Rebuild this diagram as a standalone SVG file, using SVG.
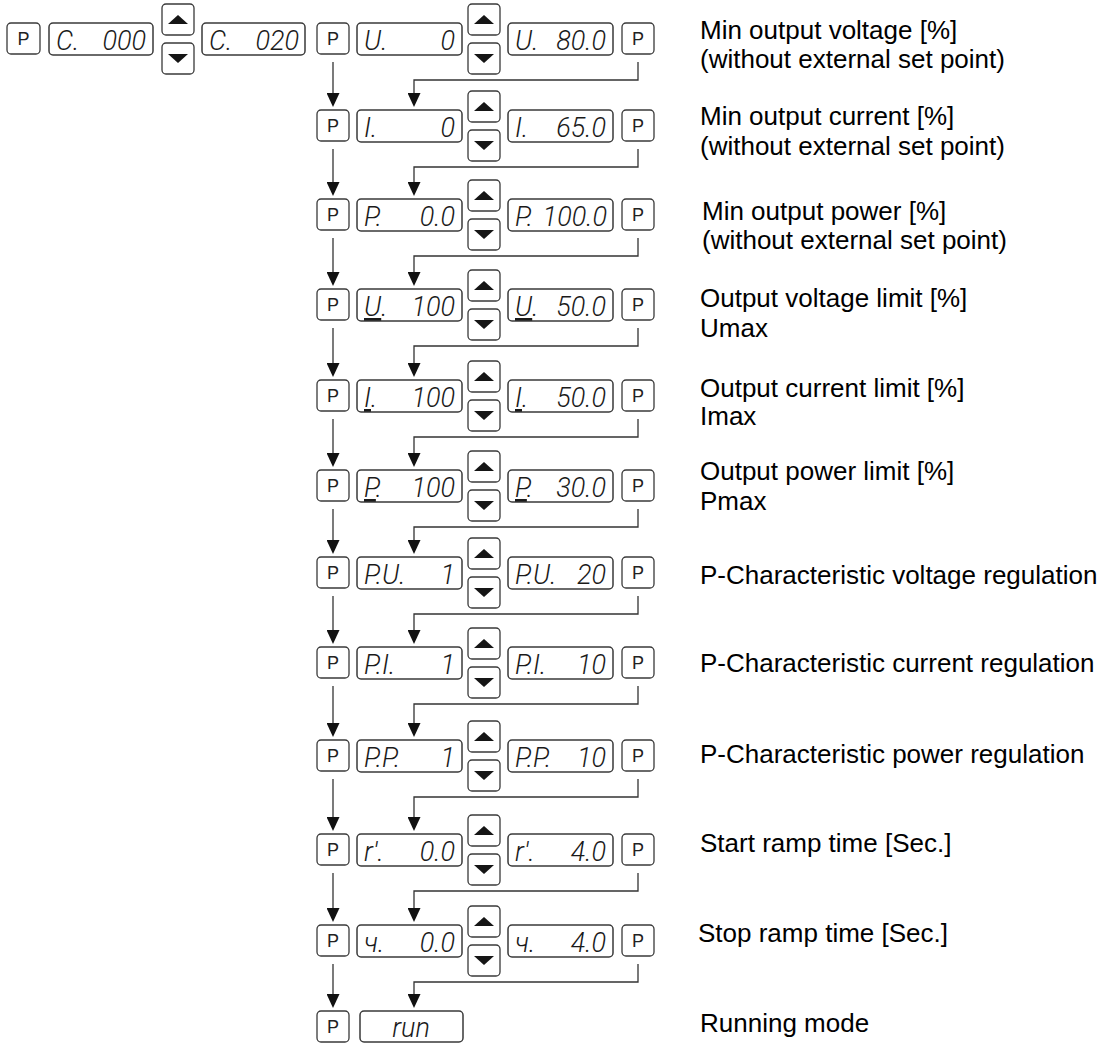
<svg xmlns="http://www.w3.org/2000/svg" width="1109" height="1044" viewBox="0 0 1109 1044">
<style>
.btn{fill:#fff;stroke:#3a3a3a;stroke-width:1.3}
.disp{fill:#fff;stroke:#3a3a3a;stroke-width:1.5}
.tri{fill:#151515}
.p{font-family:"Liberation Sans",Arial,sans-serif;font-size:18px;text-anchor:middle;fill:#222}
.seg{font-family:Roboto,"DejaVu Sans",sans-serif;font-style:italic;font-weight:300;font-size:27px;fill:#1a1a1a}
.v{text-anchor:end}
.lbl{font-family:"Liberation Sans",Arial,sans-serif;font-size:26px;fill:#000}
.conn{fill:none;stroke:#333;stroke-width:1.3;marker-end:url(#ah)}
</style>
<defs>
<marker id="ah" viewBox="0 0 14 13" refX="6" refY="6.5" markerWidth="14" markerHeight="13" markerUnits="userSpaceOnUse" orient="auto"><path d="M0,0 L14,6.5 L0,13 z" fill="#111"/></marker>
</defs>

<g id="connectors">
<line class="conn" x1="333" y1="62" x2="333" y2="99"/>
<polyline class="conn" points="638,62 638,80 414,80 414,99"/>
<line class="conn" x1="333" y1="149" x2="333" y2="188"/>
<polyline class="conn" points="638,149 638,167 414,167 414,188"/>
<line class="conn" x1="333" y1="238" x2="333" y2="278"/>
<polyline class="conn" points="638,238 638,256 414,256 414,278"/>
<line class="conn" x1="333" y1="328" x2="333" y2="369"/>
<polyline class="conn" points="638,328 638,346 414,346 414,369"/>
<line class="conn" x1="333" y1="419" x2="333" y2="459"/>
<polyline class="conn" points="638,419 638,437 414,437 414,459"/>
<line class="conn" x1="333" y1="509" x2="333" y2="546"/>
<polyline class="conn" points="638,509 638,527 414,527 414,546"/>
<line class="conn" x1="333" y1="596" x2="333" y2="636"/>
<polyline class="conn" points="638,596 638,614 414,614 414,636"/>
<line class="conn" x1="333" y1="686" x2="333" y2="729"/>
<polyline class="conn" points="638,686 638,704 414,704 414,729"/>
<line class="conn" x1="333" y1="779" x2="333" y2="823"/>
<polyline class="conn" points="638,779 638,797 414,797 414,823"/>
<line class="conn" x1="333" y1="873" x2="333" y2="914"/>
<polyline class="conn" points="638,873 638,891 414,891 414,914"/>
<line class="conn" x1="333" y1="964" x2="333" y2="1000"/>
<polyline class="conn" points="638,964 638,982 414,982 414,1000"/>
</g>

<!-- Row 1 left part -->
<g id="p-start"><rect class="btn" x="7" y="23" width="33" height="31" rx="4"/><text class="p" x="23.5" y="45">P</text></g>
<g id="disp-c000"><rect class="disp" x="49" y="23" width="104" height="32" rx="4"/><text class="seg" x="56" y="50">C.</text><text class="seg v" x="146" y="50">000</text></g>
<g id="updown-c"><rect class="btn" x="162" y="4" width="32" height="31" rx="4"/><polygon class="tri" points="168,24 188,24 178,15"/><rect class="btn" x="162" y="43" width="32" height="31" rx="4"/><polygon class="tri" points="168,54 188,54 178,63"/></g>
<g id="disp-c020"><rect class="disp" x="202" y="23" width="103" height="32" rx="4"/><text class="seg" x="209" y="50">C.</text><text class="seg v" x="299" y="50">020</text></g>

<!-- Row 1 -->
<g id="p1a"><rect class="btn" x="317" y="23" width="32" height="31" rx="4"/><text class="p" x="333" y="45">P</text></g>
<g id="d1a"><rect class="disp" x="357" y="23" width="105" height="32" rx="4"/><text class="seg" x="364" y="50">U.</text><text class="seg v" x="455" y="50">0</text></g>
<g id="ud1"><rect class="btn" x="468" y="4" width="32" height="31" rx="4"/><polygon class="tri" points="474,24 494,24 484,15"/><rect class="btn" x="468" y="43" width="32" height="31" rx="4"/><polygon class="tri" points="474,54 494,54 484,63"/></g>
<g id="d1b"><rect class="disp" x="508" y="23" width="105" height="32" rx="4"/><text class="seg" x="515" y="50">U.</text><text class="seg v" x="606" y="50">80.0</text></g>
<g id="p1b"><rect class="btn" x="622" y="23" width="32" height="31" rx="4"/><text class="p" x="638" y="45">P</text></g>
<g id="lbl1"><text class="lbl" x="700" y="39">Min output voltage [%]</text><text class="lbl" x="700" y="68">(without external set point)</text></g>

<!-- Row 2 -->
<g id="p2a"><rect class="btn" x="317" y="110" width="32" height="31" rx="4"/><text class="p" x="333" y="132">P</text></g>
<g id="d2a"><rect class="disp" x="357" y="110" width="105" height="32" rx="4"/><text class="seg" x="364" y="137">I.</text><text class="seg v" x="455" y="137">0</text></g>
<g id="ud2"><rect class="btn" x="468" y="91" width="32" height="31" rx="4"/><polygon class="tri" points="474,111 494,111 484,102"/><rect class="btn" x="468" y="130" width="32" height="31" rx="4"/><polygon class="tri" points="474,141 494,141 484,150"/></g>
<g id="d2b"><rect class="disp" x="508" y="110" width="105" height="32" rx="4"/><text class="seg" x="515" y="137">I.</text><text class="seg v" x="606" y="137">65.0</text></g>
<g id="p2b"><rect class="btn" x="622" y="110" width="32" height="31" rx="4"/><text class="p" x="638" y="132">P</text></g>
<g id="lbl2"><text class="lbl" x="700" y="125">Min output current [%]</text><text class="lbl" x="700" y="155">(without external set point)</text></g>

<!-- Row 3 -->
<g id="p3a"><rect class="btn" x="317" y="199" width="32" height="31" rx="4"/><text class="p" x="333" y="221">P</text></g>
<g id="d3a"><rect class="disp" x="357" y="199" width="105" height="32" rx="4"/><text class="seg" x="364" y="226">P.</text><text class="seg v" x="455" y="226">0.0</text></g>
<g id="ud3"><rect class="btn" x="468" y="180" width="32" height="31" rx="4"/><polygon class="tri" points="474,200 494,200 484,191"/><rect class="btn" x="468" y="219" width="32" height="31" rx="4"/><polygon class="tri" points="474,230 494,230 484,239"/></g>
<g id="d3b"><rect class="disp" x="508" y="199" width="105" height="32" rx="4"/><text class="seg" x="515" y="226">P.</text><text class="seg v" x="607" y="226">100.0</text></g>
<g id="p3b"><rect class="btn" x="622" y="199" width="32" height="31" rx="4"/><text class="p" x="638" y="221">P</text></g>
<g id="lbl3"><text class="lbl" x="702" y="220">Min output power [%]</text><text class="lbl" x="702" y="249">(without external set point)</text></g>

<!-- Row 4 -->
<g id="p4a"><rect class="btn" x="317" y="289" width="32" height="31" rx="4"/><text class="p" x="333" y="311">P</text></g>
<g id="d4a"><rect class="disp" x="357" y="289" width="105" height="32" rx="4"/><text class="seg" x="364" y="316"><tspan text-decoration="underline">U</tspan>.</text><text class="seg v" x="455" y="316">100</text></g>
<g id="ud4"><rect class="btn" x="468" y="270" width="32" height="31" rx="4"/><polygon class="tri" points="474,290 494,290 484,281"/><rect class="btn" x="468" y="309" width="32" height="31" rx="4"/><polygon class="tri" points="474,320 494,320 484,329"/></g>
<g id="d4b"><rect class="disp" x="508" y="289" width="105" height="32" rx="4"/><text class="seg" x="515" y="316"><tspan text-decoration="underline">U</tspan>.</text><text class="seg v" x="606" y="316">50.0</text></g>
<g id="p4b"><rect class="btn" x="622" y="289" width="32" height="31" rx="4"/><text class="p" x="638" y="311">P</text></g>
<g id="lbl4"><text class="lbl" x="700" y="307">Output voltage limit [%]</text><text class="lbl" x="700" y="337">Umax</text></g>

<!-- Row 5 -->
<g id="p5a"><rect class="btn" x="317" y="380" width="32" height="31" rx="4"/><text class="p" x="333" y="402">P</text></g>
<g id="d5a"><rect class="disp" x="357" y="380" width="105" height="32" rx="4"/><text class="seg" x="364" y="407"><tspan text-decoration="underline">I</tspan>.</text><text class="seg v" x="455" y="407">100</text></g>
<g id="ud5"><rect class="btn" x="468" y="361" width="32" height="31" rx="4"/><polygon class="tri" points="474,381 494,381 484,372"/><rect class="btn" x="468" y="400" width="32" height="31" rx="4"/><polygon class="tri" points="474,411 494,411 484,420"/></g>
<g id="d5b"><rect class="disp" x="508" y="380" width="105" height="32" rx="4"/><text class="seg" x="515" y="407"><tspan text-decoration="underline">I</tspan>.</text><text class="seg v" x="606" y="407">50.0</text></g>
<g id="p5b"><rect class="btn" x="622" y="380" width="32" height="31" rx="4"/><text class="p" x="638" y="402">P</text></g>
<g id="lbl5"><text class="lbl" x="700" y="397">Output current limit [%]</text><text class="lbl" x="700" y="425">Imax</text></g>

<!-- Row 6 -->
<g id="p6a"><rect class="btn" x="317" y="470" width="32" height="31" rx="4"/><text class="p" x="333" y="492">P</text></g>
<g id="d6a"><rect class="disp" x="357" y="470" width="105" height="32" rx="4"/><text class="seg" x="364" y="497"><tspan text-decoration="underline">P</tspan>.</text><text class="seg v" x="455" y="497">100</text></g>
<g id="ud6"><rect class="btn" x="468" y="451" width="32" height="31" rx="4"/><polygon class="tri" points="474,471 494,471 484,462"/><rect class="btn" x="468" y="490" width="32" height="31" rx="4"/><polygon class="tri" points="474,501 494,501 484,510"/></g>
<g id="d6b"><rect class="disp" x="508" y="470" width="105" height="32" rx="4"/><text class="seg" x="515" y="497"><tspan text-decoration="underline">P</tspan>.</text><text class="seg v" x="606" y="497">30.0</text></g>
<g id="p6b"><rect class="btn" x="622" y="470" width="32" height="31" rx="4"/><text class="p" x="638" y="492">P</text></g>
<g id="lbl6"><text class="lbl" x="700" y="480">Output power limit [%]</text><text class="lbl" x="700" y="510">Pmax</text></g>

<!-- Row 7 -->
<g id="p7a"><rect class="btn" x="317" y="557" width="32" height="31" rx="4"/><text class="p" x="333" y="579">P</text></g>
<g id="d7a"><rect class="disp" x="357" y="557" width="105" height="32" rx="4"/><text class="seg" x="364" y="584">P.U.</text><text class="seg v" x="455" y="584">1</text></g>
<g id="ud7"><rect class="btn" x="468" y="538" width="32" height="31" rx="4"/><polygon class="tri" points="474,558 494,558 484,549"/><rect class="btn" x="468" y="577" width="32" height="31" rx="4"/><polygon class="tri" points="474,588 494,588 484,597"/></g>
<g id="d7b"><rect class="disp" x="508" y="557" width="105" height="32" rx="4"/><text class="seg" x="515" y="584">P.U.</text><text class="seg v" x="606" y="584">20</text></g>
<g id="p7b"><rect class="btn" x="622" y="557" width="32" height="31" rx="4"/><text class="p" x="638" y="579">P</text></g>
<g id="lbl7"><text class="lbl" x="700" y="584">P-Characteristic voltage regulation</text></g>

<!-- Row 8 -->
<g id="p8a"><rect class="btn" x="317" y="647" width="32" height="31" rx="4"/><text class="p" x="333" y="669">P</text></g>
<g id="d8a"><rect class="disp" x="357" y="647" width="105" height="32" rx="4"/><text class="seg" x="364" y="674">P.I.</text><text class="seg v" x="455" y="674">1</text></g>
<g id="ud8"><rect class="btn" x="468" y="628" width="32" height="31" rx="4"/><polygon class="tri" points="474,648 494,648 484,639"/><rect class="btn" x="468" y="667" width="32" height="31" rx="4"/><polygon class="tri" points="474,678 494,678 484,687"/></g>
<g id="d8b"><rect class="disp" x="508" y="647" width="105" height="32" rx="4"/><text class="seg" x="515" y="674">P.I.</text><text class="seg v" x="606" y="674">10</text></g>
<g id="p8b"><rect class="btn" x="622" y="647" width="32" height="31" rx="4"/><text class="p" x="638" y="669">P</text></g>
<g id="lbl8"><text class="lbl" x="700" y="672">P-Characteristic current regulation</text></g>

<!-- Row 9 -->
<g id="p9a"><rect class="btn" x="317" y="740" width="32" height="31" rx="4"/><text class="p" x="333" y="762">P</text></g>
<g id="d9a"><rect class="disp" x="357" y="740" width="105" height="32" rx="4"/><text class="seg" x="364" y="767">P.P.</text><text class="seg v" x="455" y="767">1</text></g>
<g id="ud9"><rect class="btn" x="468" y="721" width="32" height="31" rx="4"/><polygon class="tri" points="474,741 494,741 484,732"/><rect class="btn" x="468" y="760" width="32" height="31" rx="4"/><polygon class="tri" points="474,771 494,771 484,780"/></g>
<g id="d9b"><rect class="disp" x="508" y="740" width="105" height="32" rx="4"/><text class="seg" x="515" y="767">P.P.</text><text class="seg v" x="606" y="767">10</text></g>
<g id="p9b"><rect class="btn" x="622" y="740" width="32" height="31" rx="4"/><text class="p" x="638" y="762">P</text></g>
<g id="lbl9"><text class="lbl" x="700" y="763">P-Characteristic power regulation</text></g>

<!-- Row 10 -->
<g id="p10a"><rect class="btn" x="317" y="834" width="32" height="31" rx="4"/><text class="p" x="333" y="856">P</text></g>
<g id="d10a"><rect class="disp" x="357" y="834" width="105" height="32" rx="4"/><text class="seg" x="364" y="861">r'.</text><text class="seg v" x="455" y="861">0.0</text></g>
<g id="ud10"><rect class="btn" x="468" y="815" width="32" height="31" rx="4"/><polygon class="tri" points="474,835 494,835 484,826"/><rect class="btn" x="468" y="854" width="32" height="31" rx="4"/><polygon class="tri" points="474,865 494,865 484,874"/></g>
<g id="d10b"><rect class="disp" x="508" y="834" width="105" height="32" rx="4"/><text class="seg" x="515" y="861">r'.</text><text class="seg v" x="606" y="861">4.0</text></g>
<g id="p10b"><rect class="btn" x="622" y="834" width="32" height="31" rx="4"/><text class="p" x="638" y="856">P</text></g>
<g id="lbl10"><text class="lbl" x="700" y="852">Start ramp time [Sec.]</text></g>

<!-- Row 11 -->
<g id="p11a"><rect class="btn" x="317" y="925" width="32" height="31" rx="4"/><text class="p" x="333" y="947">P</text></g>
<g id="d11a"><rect class="disp" x="357" y="925" width="105" height="32" rx="4"/><text class="seg" x="364" y="952">ч.</text><text class="seg v" x="455" y="952">0.0</text></g>
<g id="ud11"><rect class="btn" x="468" y="906" width="32" height="31" rx="4"/><polygon class="tri" points="474,926 494,926 484,917"/><rect class="btn" x="468" y="945" width="32" height="31" rx="4"/><polygon class="tri" points="474,956 494,956 484,965"/></g>
<g id="d11b"><rect class="disp" x="508" y="925" width="105" height="32" rx="4"/><text class="seg" x="515" y="952">ч.</text><text class="seg v" x="606" y="952">4.0</text></g>
<g id="p11b"><rect class="btn" x="622" y="925" width="32" height="31" rx="4"/><text class="p" x="638" y="947">P</text></g>
<g id="lbl11"><text class="lbl" x="698" y="942">Stop ramp time [Sec.]</text></g>

<!-- Row 12 -->
<g id="p12a"><rect class="btn" x="317" y="1011" width="32" height="31" rx="4"/><text class="p" x="333" y="1033">P</text></g>
<g id="d12"><rect class="disp" x="360" y="1011" width="103" height="31" rx="4"/><text class="seg" x="411" y="1037" text-anchor="middle">run</text></g>
<g id="lbl12"><text class="lbl" x="700" y="1032">Running mode</text></g>
</svg>
